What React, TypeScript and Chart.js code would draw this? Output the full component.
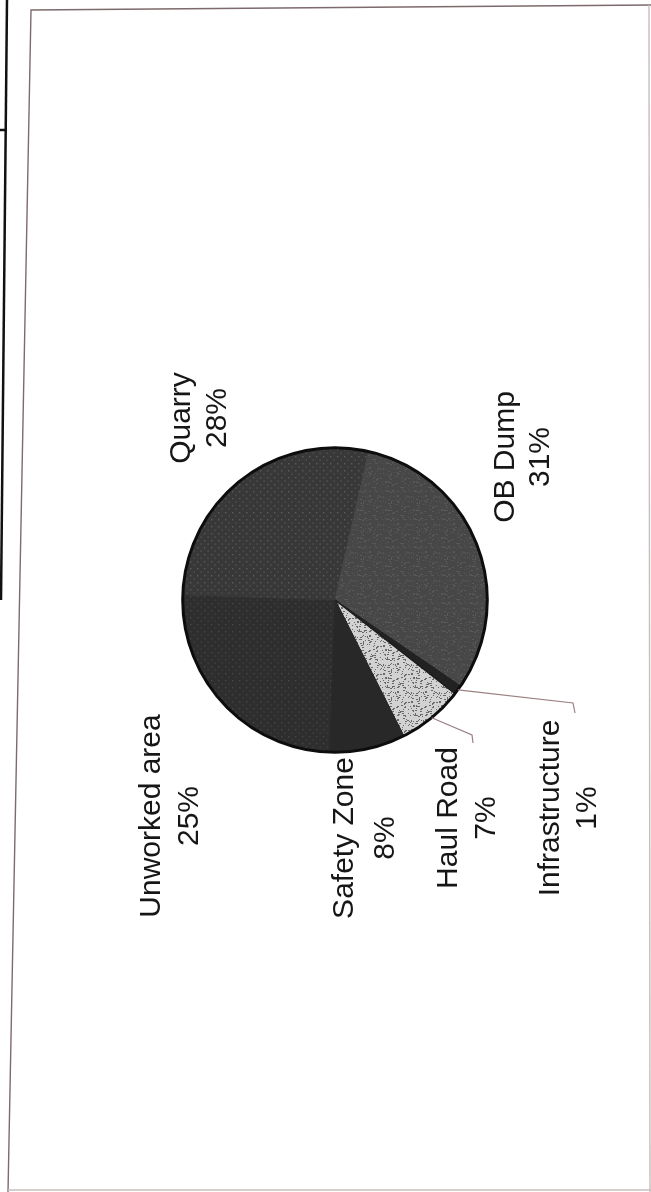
import React, { useEffect, useRef } from "react";
import { Chart, registerables } from "chart.js";

Chart.register(...registerables);

// ---- data ----
const categories = ["Unworked area", "Quarry", "OB Dump", "Infrastructure", "Haul Road", "Safety Zone"];
const shares = [25, 28, 31, 1, 7, 8];
const percentLabels = ["25%", "28%", "31%", "1%", "7%", "8%"];

// ---- layout / style (not data) ----
const W = 651;
const H = 1192;
const FONT = '30px "Liberation Sans", Arial, sans-serif';
// rotated label placement: [nameColumnX, percentColumnX, centerY]
const labelPlace: Record<string, [number, number, number]> = {
  "Unworked area": [152, 190, 816],
  "Quarry": [182, 218, 418],
  "OB Dump": [506, 541, 457],
  "Infrastructure": [551, 588, 808],
  "Haul Road": [449, 487, 818],
  "Safety Zone": [345, 386, 838],
};
// leader line elbows for small slices: [elbowX, elbowY, endX, endY]
const leaders: Record<string, [number, number, number, number]> = {
  "Haul Road": [472, 735, 473, 743],
  "Infrastructure": [573, 703, 575, 713],
};
const baseColors = ["#2e2e2e", "#383838", "#474747", "#222222", "#d2d2d2", "#282828"];
const borderColors = ["#2e2e2e", "#383838", "#474747", "#1e1e1e", "#1a1a1a", "#282828"];

function seeded(seed: number) {
  let s = seed >>> 0;
  return () => {
    s = (s * 1664525 + 1013904223) >>> 0;
    return s / 4294967296;
  };
}

function makePattern(base: string, dot: string, kind: "grid" | "speckle", density = 0.12) {
  const c = document.createElement("canvas");
  const size = kind === "grid" ? 7 : 28;
  c.width = size;
  c.height = size;
  const g = c.getContext("2d")!;
  g.fillStyle = base;
  g.fillRect(0, 0, size, size);
  g.fillStyle = dot;
  if (kind === "grid") {
    g.fillRect(1, 1, 1.4, 1.4);
    g.fillRect(4.5, 4.5, 1.2, 1.2);
  } else {
    const r = seeded(7);
    const n = Math.floor(size * size * density);
    for (let i = 0; i < n; i++) {
      g.fillRect(Math.floor(r() * size), Math.floor(r() * size), 1 + Math.floor(r() * 2), 1);
    }
  }
  return g.createPattern(c, "repeat")!;
}

export default function App() {
  const ref = useRef<HTMLCanvasElement | null>(null);

  useEffect(() => {
    const canvas = ref.current!;
    const fills = [
      makePattern(baseColors[0], "#474747", "grid"),
      makePattern(baseColors[1], "#5c5c5c", "grid"),
      makePattern(baseColors[2], "#585858", "speckle", 0.1),
      baseColors[3],
      makePattern(baseColors[4], "#6a6a6a", "speckle", 0.14),
      baseColors[5],
    ];

    const decor = {
      id: "decor",
      beforeDraw(chart: any) {
        const ctx = chart.ctx as CanvasRenderingContext2D;
        ctx.save();
        ctx.fillStyle = "#ffffff";
        ctx.fillRect(0, 0, W, H);
        // paper frame
        ctx.strokeStyle = "#7d6a6c";
        ctx.lineWidth = 1.4;
        ctx.beginPath();
        ctx.moveTo(651, 5);
        ctx.lineTo(31, 10);
        ctx.lineTo(8, 1192);
        ctx.stroke();
        ctx.strokeStyle = "#c8bcbc";
        ctx.beginPath();
        ctx.moveTo(649, 5);
        ctx.lineTo(650, 1192);
        ctx.stroke();
        ctx.beginPath();
        ctx.moveTo(8, 1190);
        ctx.lineTo(651, 1190);
        ctx.stroke();
        // thick edge line on left
        ctx.strokeStyle = "#111111";
        ctx.lineWidth = 2.5;
        ctx.beginPath();
        ctx.moveTo(7, 0);
        ctx.lineTo(1, 600);
        ctx.stroke();
        ctx.beginPath();
        ctx.moveTo(0, 130);
        ctx.lineTo(7, 130);
        ctx.stroke();
        ctx.restore();
      },
      afterDatasetsDraw(chart: any) {
        const ctx = chart.ctx as CanvasRenderingContext2D;
        const meta = chart.getDatasetMeta(0);
        const arc0 = meta.data[0] as any;
        const cx = arc0.x;
        const cy = arc0.y;
        const r = arc0.outerRadius;
        ctx.save();
        // outer outline
        ctx.strokeStyle = "#0d0d0d";
        ctx.lineWidth = 3;
        ctx.beginPath();
        ctx.arc(cx, cy, r, 0, Math.PI * 2);
        ctx.stroke();

        // leader lines
        ctx.strokeStyle = "#9b7f82";
        ctx.lineWidth = 1.2;
        categories.forEach((name, i) => {
          const l = leaders[name];
          if (!l) return;
          const a = meta.data[i] as any;
          const mid = (a.startAngle + a.endAngle) / 2;
          const sx = cx + Math.cos(mid) * r;
          const sy = cy + Math.sin(mid) * r;
          ctx.beginPath();
          ctx.moveTo(sx, sy);
          ctx.lineTo(l[0], l[1]);
          ctx.lineTo(l[2], l[3]);
          ctx.stroke();
        });

        // rotated labels
        ctx.fillStyle = "#161616";
        ctx.font = FONT;
        ctx.textAlign = "center";
        ctx.textBaseline = "middle";
        categories.forEach((name, i) => {
          const p = labelPlace[name];
          const lines = [name, percentLabels[i]];
          [p[0], p[1]].forEach((x, k) => {
            ctx.save();
            ctx.translate(x, p[2]);
            ctx.rotate(-Math.PI / 2);
            ctx.fillText(lines[k], 0, 0);
            ctx.restore();
          });
        });
        ctx.restore();
      },
    };

    const chart = new Chart(canvas, {
      type: "pie",
      data: {
        labels: categories,
        datasets: [
          {
            data: shares,
            backgroundColor: fills as any,
            borderColor: borderColors,
            borderWidth: [1, 1, 1, 1, 1.4, 1],
            hoverOffset: 0,
          },
        ],
      },
      options: {
        responsive: false,
        animation: false,
        rotation: 182,
        layout: { padding: { left: 182, right: 163, top: 447, bottom: 439 } },
        plugins: {
          legend: { display: false },
          tooltip: { enabled: false },
          title: { display: false },
        },
      },
      plugins: [decor],
    });
    return () => chart.destroy();
  }, []);

  return (
    <div style={{ position: "absolute", left: 0, top: 0, width: W, height: H, background: "#fff" }}>
      <canvas ref={ref} width={W} height={H} style={{ display: "block", width: W, height: H }} />
    </div>
  );
}
